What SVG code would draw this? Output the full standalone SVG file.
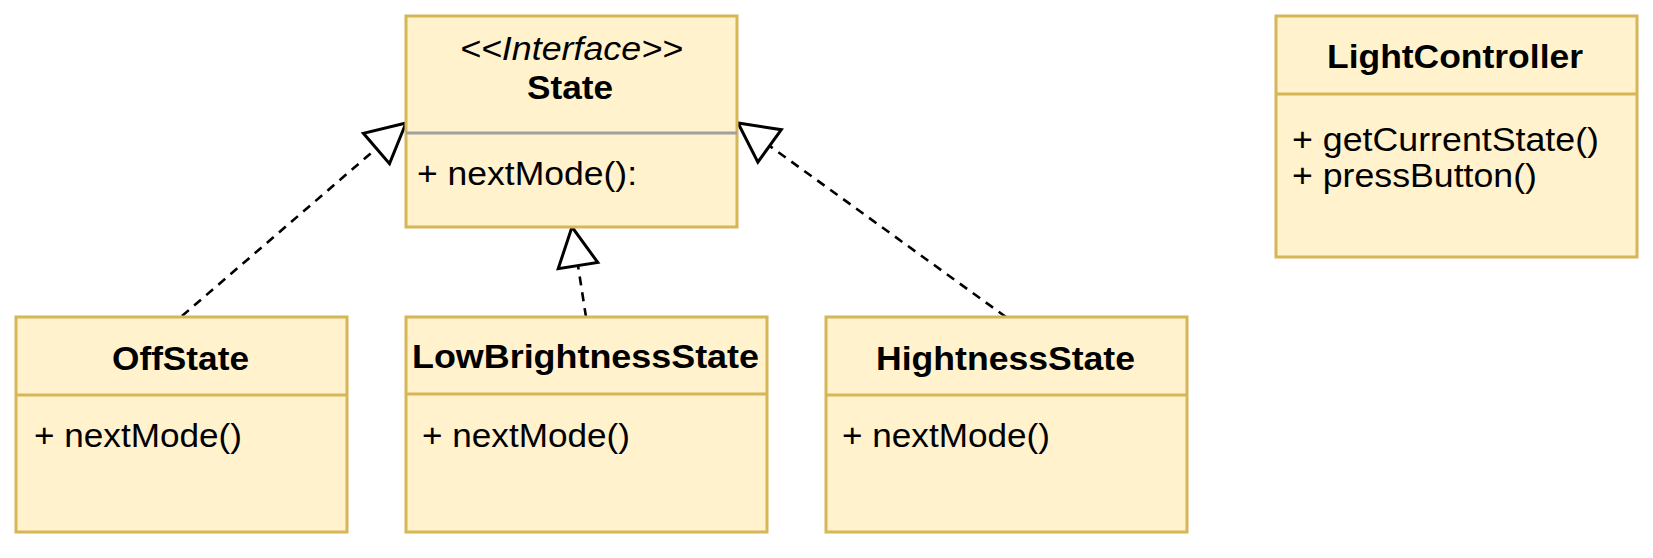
<svg xmlns="http://www.w3.org/2000/svg" width="1653" height="558" viewBox="0 0 1653 558">
  <style>
    .box { fill: #fff2cc; stroke: #d6b656; stroke-width: 3; }
    .div { stroke: #d6b656; stroke-width: 3; }
    .divg { stroke: #a0a0a0; stroke-width: 3; }
    .t { font-family: "Liberation Sans", Arial, Helvetica, sans-serif; font-size: 33px; fill: #000; }
    .b { font-weight: bold; }
    .i { font-style: italic; }
    .edge { fill: none; stroke: #000; stroke-width: 2.6; stroke-dasharray: 9 7; }
  </style>
  <defs>
    <marker id="tri" markerUnits="userSpaceOnUse" viewBox="-43 -24 46 48" refX="0" refY="0" markerWidth="46" markerHeight="48" orient="auto">
      <path d="M0,0 L-39,-20 L-39,20 Z" fill="#fff" stroke="#000" stroke-width="3" stroke-dasharray="none" stroke-linejoin="miter"/>
    </marker>
  </defs>
  <rect width="1653" height="558" fill="#fff"/>

  <g id="connectors">
    <path class="edge" d="M182,316 L406,123" marker-end="url(#tri)"/>
    <path class="edge" d="M586,317 L572,227" marker-end="url(#tri)"/>
    <path class="edge" d="M1006,317 L738,123" marker-end="url(#tri)"/>
  </g>

  <g id="State">
    <rect class="box" x="406" y="16" width="331" height="211"/>
    <line class="divg" x1="406" y1="133" x2="737" y2="133"/>
    <text class="t i" x="460" y="60" textLength="223" lengthAdjust="spacingAndGlyphs">&lt;&lt;Interface&gt;&gt;</text>
    <text class="t b" x="527" y="99" textLength="86" lengthAdjust="spacingAndGlyphs">State</text>
    <text class="t" x="417" y="185" textLength="220" lengthAdjust="spacingAndGlyphs">+ nextMode():</text>
  </g>

  <g id="OffState">
    <rect class="box" x="16" y="317" width="331" height="215"/>
    <line class="div" x1="16" y1="395" x2="347" y2="395"/>
    <text class="t b" x="112" y="370" textLength="137" lengthAdjust="spacingAndGlyphs">OffState</text>
    <text class="t" x="34" y="447" textLength="208" lengthAdjust="spacingAndGlyphs">+ nextMode()</text>
  </g>

  <g id="LowBrightnessState">
    <rect class="box" x="406" y="317" width="361" height="215"/>
    <line class="div" x1="406" y1="394" x2="767" y2="394"/>
    <text class="t b" x="412" y="368" textLength="347" lengthAdjust="spacingAndGlyphs">LowBrightnessState</text>
    <text class="t" x="422" y="447" textLength="208" lengthAdjust="spacingAndGlyphs">+ nextMode()</text>
  </g>

  <g id="HightnessState">
    <rect class="box" x="826" y="317" width="361" height="215"/>
    <line class="div" x1="826" y1="395" x2="1187" y2="395"/>
    <text class="t b" x="876" y="370" textLength="259" lengthAdjust="spacingAndGlyphs">HightnessState</text>
    <text class="t" x="842" y="447" textLength="208" lengthAdjust="spacingAndGlyphs">+ nextMode()</text>
  </g>

  <g id="LightController">
    <rect class="box" x="1276" y="16" width="361" height="241"/>
    <line class="div" x1="1276" y1="94" x2="1637" y2="94"/>
    <text class="t b" x="1327" y="68" textLength="256" lengthAdjust="spacingAndGlyphs">LightController</text>
    <text class="t" x="1292" y="151" textLength="307" lengthAdjust="spacingAndGlyphs">+ getCurrentState()</text>
    <text class="t" x="1292" y="187" textLength="245" lengthAdjust="spacingAndGlyphs">+ pressButton()</text>
  </g>
</svg>
